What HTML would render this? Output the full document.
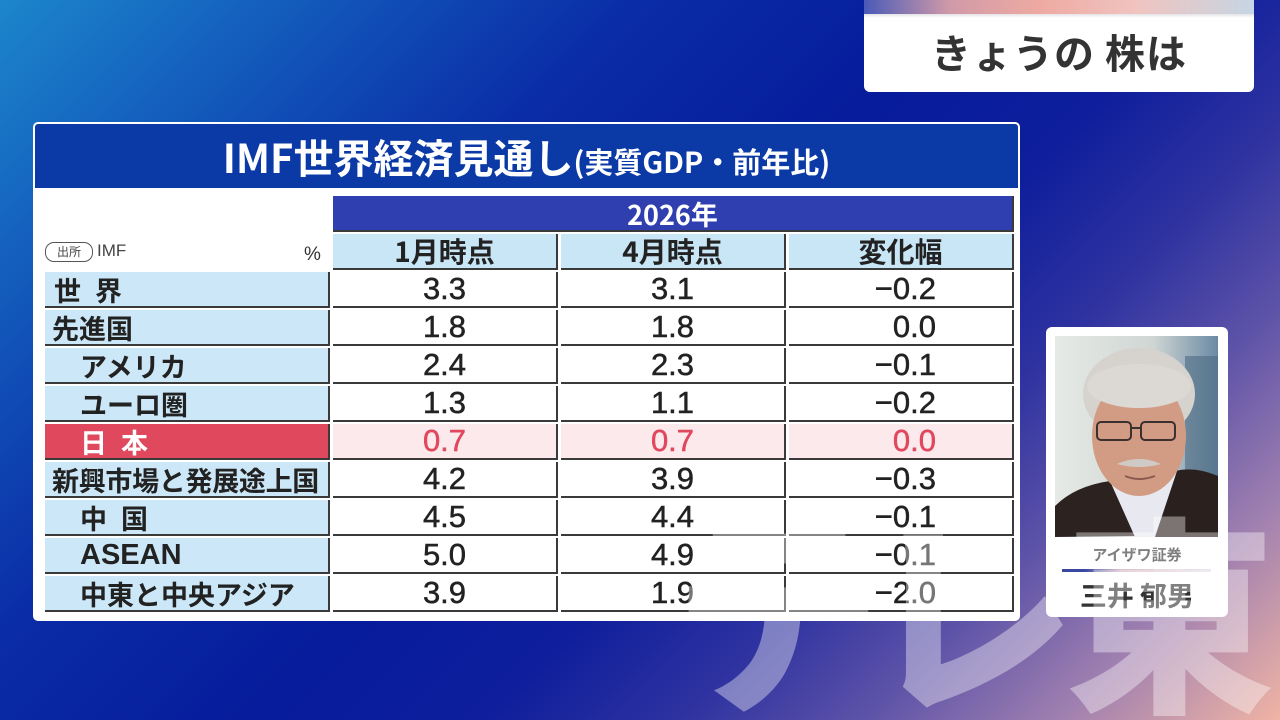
<!DOCTYPE html>
<html><head><meta charset="utf-8">
<style>
*{margin:0;padding:0;box-sizing:border-box}
html,body{width:1280px;height:720px;overflow:hidden}
body{position:relative;font-family:"Liberation Sans","Noto Sans CJK JP",sans-serif;
background:linear-gradient(135deg,#1c86cc 0%,#1152b8 18%,#0a2ca6 32%,#061c9c 48%,#0e1e9c 60%,#2e32a0 70%,#5c52a8 79%,#a080b0 89%,#f0b4a4 100%);}
.abs{position:absolute}
.jp{font-family:"Noto Sans CJK JP",sans-serif}
.card{left:33px;top:122px;width:987px;height:499px;background:#fff;border-radius:5px}
.band{left:35px;top:124px;width:983px;height:64px;background:#0b3aa6;border-radius:3px 3px 0 0;color:#fff;text-align:center;font-weight:700;white-space:nowrap}
.cell{position:absolute;border-right:2px solid #3a3a3a;border-bottom:2px solid #3a3a3a;height:36px;display:flex;align-items:center;white-space:nowrap}
.lab{left:45px;width:285px;background:#cce8f8;color:#222;font-family:"Noto Sans CJK JP",sans-serif;font-weight:700;font-size:27px}
.val{background:#fff;color:#222;font-size:31px;justify-content:center;font-family:"Liberation Sans","Noto Sans CJK JP",sans-serif;-webkit-text-stroke:0.5px #222}
.c1{left:333px;width:225px}
.c2{left:561px;width:225px}
.c3{left:789px;width:225px;justify-content:flex-end;padding-right:76px}
.hd{top:234px;background:#c8e6f6;justify-content:center;font-family:"Noto Sans CJK JP",sans-serif;font-weight:700;font-size:28px;color:#222}
.jpn.val{background:#fbe9ec;color:#e0485e;-webkit-text-stroke:0.5px #e0485e}
.wm{font-family:"Noto Sans CJK JP",sans-serif;font-weight:900;font-size:210px;line-height:1;color:rgba(255,255,255,0.38);position:absolute;top:500px}
</style></head><body>

<!-- top right card -->
<div class="abs" style="left:864px;top:0;width:390px;height:92px;background:#fff;border-radius:0 0 6px 6px;overflow:hidden">
  <div style="height:14px;background:linear-gradient(90deg,#4a5ab8 0%,#d09aa8 22%,#eeaaa2 45%,#f0c4c0 70%,#c6d6e4 100%)"></div>
  <div style="height:4px;background:linear-gradient(#e4e4e8,#fff)"></div>
  <div class="jp" style="text-align:center;font-weight:700;font-size:40px;color:#333;line-height:42px;margin-top:12px;letter-spacing:1px">きょうの 株は</div>
</div>

<!-- table card -->
<div class="abs card"></div>
<div class="abs band"><span class="jp" style="font-size:40px;line-height:64px">IMF世界経済見通し</span><span class="jp" style="font-size:29px;line-height:64px">(実質GDP・前年比)</span></div>

<div class="cell jp" style="left:333px;top:196px;width:681px;height:36px;background:#2f3fb0;color:#fff;justify-content:center;font-weight:700;font-size:27px">2026年</div>

<div class="abs jp" style="left:45px;top:242px;width:48px;height:20px;border:1.5px solid #555;border-radius:9px;font-size:12px;color:#444;line-height:17px;text-align:center">出所</div>
<div class="abs" style="left:97px;top:241px;font-size:17px;color:#444">IMF</div>
<div class="abs" style="left:304px;top:244px;font-size:19px;color:#333">%</div>

<div class="cell hd c1">1月時点</div>
<div class="cell hd c2">4月時点</div>
<div class="cell hd c3" style="justify-content:center;padding-right:0">変化幅</div>

<!-- rows -->
<div class="cell lab" style="top:272px;padding-left:9px;letter-spacing:14px">世界</div>
<div class="cell val c1" style="top:272px">3.3</div>
<div class="cell val c2" style="top:272px">3.1</div>
<div class="cell val c3" style="top:272px">−0.2</div>

<div class="cell lab" style="top:310px;padding-left:7px">先進国</div>
<div class="cell val c1" style="top:310px">1.8</div>
<div class="cell val c2" style="top:310px">1.8</div>
<div class="cell val c3" style="top:310px">0.0</div>

<div class="cell lab" style="top:348px;padding-left:35px">アメリカ</div>
<div class="cell val c1" style="top:348px">2.4</div>
<div class="cell val c2" style="top:348px">2.3</div>
<div class="cell val c3" style="top:348px">−0.1</div>

<div class="cell lab" style="top:386px;padding-left:35px">ユーロ圏</div>
<div class="cell val c1" style="top:386px">1.3</div>
<div class="cell val c2" style="top:386px">1.1</div>
<div class="cell val c3" style="top:386px">−0.2</div>

<div class="cell lab" style="top:424px;padding-left:35px;background:#e0485e;color:#fff;letter-spacing:14px">日本</div>
<div class="cell val c1 jpn" style="top:424px">0.7</div>
<div class="cell val c2 jpn" style="top:424px">0.7</div>
<div class="cell val c3 jpn" style="top:424px">0.0</div>

<div class="cell lab" style="top:462px;padding-left:7px;letter-spacing:-0.3px">新興市場と発展途上国</div>
<div class="cell val c1" style="top:462px">4.2</div>
<div class="cell val c2" style="top:462px">3.9</div>
<div class="cell val c3" style="top:462px">−0.3</div>

<div class="cell lab" style="top:500px;padding-left:35px;letter-spacing:14px">中国</div>
<div class="cell val c1" style="top:500px">4.5</div>
<div class="cell val c2" style="top:500px">4.4</div>
<div class="cell val c3" style="top:500px">−0.1</div>

<div class="cell lab" style="top:538px;padding-left:35px;font-family:'Liberation Sans','Noto Sans CJK JP',sans-serif;font-size:29px">ASEAN</div>
<div class="cell val c1" style="top:538px">5.0</div>
<div class="cell val c2" style="top:538px">4.9</div>
<div class="cell val c3" style="top:538px">−0.1</div>

<div class="cell lab" style="top:576px;padding-left:35px">中東と中央アジア</div>
<div class="cell val c1" style="top:576px">3.9</div>
<div class="cell val c2" style="top:576px">1.9</div>
<div class="cell val c3" style="top:576px">−2.0</div>

<!-- person card -->
<div class="abs" style="left:1046px;top:327px;width:182px;height:290px;background:#fff;border-radius:6px"></div>
<svg class="abs" style="left:1055px;top:336px" width="163" height="201" viewBox="0 0 163 201">
  <defs>
    <linearGradient id="bg" x1="0" y1="0" x2="1" y2="0">
      <stop offset="0" stop-color="#e6eae6"/><stop offset="0.6" stop-color="#d0d6d4"/><stop offset="1" stop-color="#6a8aa4"/>
    </linearGradient>
  </defs>
  <rect width="163" height="201" fill="url(#bg)"/>
  <rect x="130" y="20" width="33" height="150" fill="#4c6a84" opacity="0.6"/>
  <path d="M0 170 Q20 150 55 145 L80 200 L0 201Z" fill="#2c2220"/>
  <path d="M163 140 Q140 130 120 135 L95 201 L163 201Z" fill="#2a201e"/>
  <path d="M55 145 L80 201 L100 201 L122 135 Q95 160 75 150Z" fill="#e8e8f0"/>
  <ellipse cx="84" cy="58" rx="56" ry="46" fill="#d6d2ce"/>
  <ellipse cx="84" cy="100" rx="47" ry="60" fill="#d29c84"/>
  <ellipse cx="84" cy="50" rx="52" ry="22" fill="#dcd8d4"/>
  <rect x="42" y="86" width="34" height="18" rx="4" fill="none" stroke="#3a3030" stroke-width="2"/>
  <rect x="86" y="86" width="34" height="18" rx="4" fill="none" stroke="#3a3030" stroke-width="2"/>
  <line x1="76" y1="92" x2="86" y2="92" stroke="#3a3030" stroke-width="2"/>
  <path d="M62 128 Q84 118 106 128 Q84 134 62 128Z" fill="#cfcac6"/>
  <path d="M70 140 Q84 146 100 140" stroke="#8a5a50" stroke-width="2" fill="none"/>
</svg>
<div class="abs jp" style="left:1046px;top:544px;width:182px;text-align:center;font-size:15px;font-weight:700;color:#333">アイザワ証券</div>
<div class="abs" style="left:1062px;top:569px;width:149px;height:3px;background:linear-gradient(90deg,#3a48a0 0%,#3a48a0 15%,#d8b8c4 40%,#e6e0ea 100%)"></div>
<div class="abs jp" style="left:1046px;top:578px;width:182px;text-align:center;font-size:27px;font-weight:700;color:#333;line-height:34px">三井 郁男</div>

<!-- watermark -->
<div class="wm" style="left:672px">テ</div>
<div class="wm" style="left:865px">レ</div>
<div class="wm" style="left:1065px">東</div>
</body></html>
